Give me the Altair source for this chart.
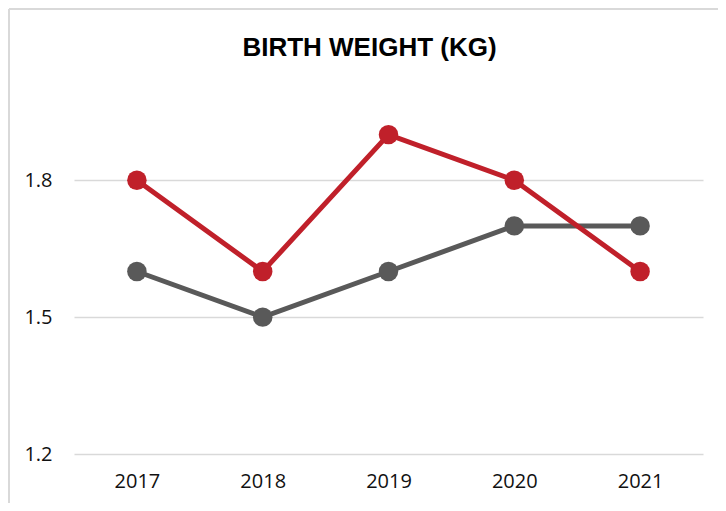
import altair as alt
import pandas as pd

years = ["2017", "2018", "2019", "2020", "2021"]
red_series = [1.8, 1.6, 1.9, 1.8, 1.6]
gray_series = [1.6, 1.5, 1.6, 1.7, 1.7]
y_ticks = [1.2, 1.5, 1.8]

series_names = ["Gray", "Red"]
series_colors = {"Gray": "#595959", "Red": "#C0202A"}

rows = []
for name, vals in (("Gray", gray_series), ("Red", red_series)):
    for yr, v in zip(years, vals):
        rows.append({"year": yr, "value": v, "series": name})
df = pd.DataFrame(rows)

x_enc = alt.X("year:O", sort=years,
              scale=alt.Scale(type="point", padding=0.5),
              axis=alt.Axis(title=None, labelAngle=0, domain=False, ticks=False,
                            labelPadding=17, labelFont="Open Sans", labelFontSize=20,
                            labelColor="#111111"))
y_enc = alt.Y("value:Q", scale=alt.Scale(domain=[1.2, 2.0], nice=False, zero=False),
              axis=alt.Axis(title=None, values=y_ticks, format=".1f", domain=False,
                            ticks=False, grid=True, gridColor="#D9D9D9", gridWidth=1.5,
                            labelPadding=22, labelFont="Open Sans", labelFontSize=20,
                            labelColor="#111111"))

layers = []
for name in series_names:
    base = alt.Chart(df).transform_filter(alt.datum.series == name)
    line = base.mark_line(color=series_colors[name], strokeWidth=5).encode(x=x_enc, y=y_enc)
    pts = base.mark_circle(color=series_colors[name], size=380, opacity=1).encode(x=x_enc, y=y_enc)
    layers += [line, pts]

border_left = alt.Chart(df).mark_rule(color="#D9D9D9", strokeWidth=2).encode(
    x=alt.value(-65), y=alt.value(-80), y2=alt.value(420))
border_top = alt.Chart(df).mark_rule(color="#D9D9D9", strokeWidth=2).encode(
    x=alt.value(-65), x2=alt.value(660), y=alt.value(-80))

chart = alt.layer(border_left, border_top, *layers).properties(
    width=629, height=365,
    autosize=alt.AutoSizeParams(type="none"),
    padding={"left": 66, "top": 81, "right": 15, "bottom": 49},
    title=alt.TitleParams("BIRTH WEIGHT (KG)", font="Liberation Sans", fontSize=26,
                          fontWeight="bold", color="#000000", anchor="middle",
                          frame="group", dx=-19, offset=-74, baseline="alphabetic"),
).configure_view(stroke=None)

chart.save("out.html", embed_options={"renderer": "svg", "actions": False})
